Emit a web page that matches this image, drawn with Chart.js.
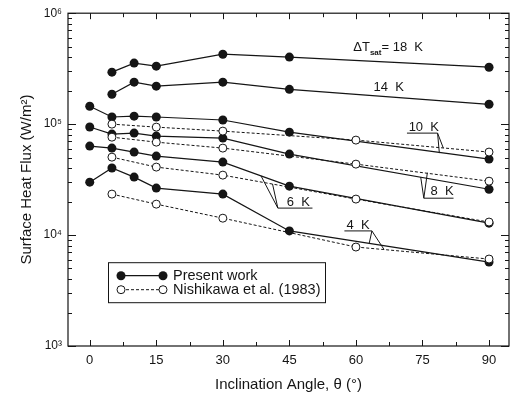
<!DOCTYPE html>
<html>
<head>
<meta charset="utf-8">
<script src="https://cdn.jsdelivr.net/npm/chart.js@4.4.0/dist/chart.umd.min.js"></script>
<style>
  html, body { margin: 0; padding: 0; background: #fff; }
  #wrap { width: 514px; height: 400px; }
</style>
</head>
<body>
<div id="wrap"><canvas id="fluxChart" width="514" height="400"></canvas></div>
<script>
// Inclination angles (deg)
const anglesPresent = [0, 5, 10, 15, 30, 45, 90];
const anglesNishikawa = [5, 15, 30, 60, 90];

// Present work, surface heat flux (W/m2), one array per wall superheat
const present18K = [null, 294000, 355000, 333000, 427000, 402000, 326000];
const present14K = [null, 186000, 239000, 220000, 239000, 206000, 151000];
const present10K = [145000, 116000, 118000, 116000, 109000, 84700, 48400];
const present8K = [94200, 81300, 83000, 78000, 74800, 53700, 25900];
const present6K = [63400, 60800, 56000, 51500, 45500, 27600, 12800];
const present4K = [30000, 40200, 33300, 26500, 23400, 10900, 5710];

// Nishikawa et al. (1983)
const nishikawa10K = [100000, 94000, 86500, 71800, 56000];
const nishikawa8K = [76300, 68800, 60800, 43600, 30600];
const nishikawa6K = [50400, 41000, 34700, 21100, 13100];
const nishikawa4K = [23400, 19000, 14200, 7800, 6080];

// Axis ticks
const xTicks = [0, 15, 30, 45, 60, 75, 90];
const yTicks = [1e3, 1e4, 1e5, 1e6];
const yTickLabels = ['10³', '10⁴', '10⁵', '10⁶'];

const ink = '#151515';
const font = '"Liberation Sans", Arial, Helvetica, sans-serif';

function toPoints(angles, values) {
    return angles.map((a, i) => ({ x: a, y: values[i] })).filter(p => p.y !== null);
}

function presentSet(values) {
    return {
        data: toPoints(anglesPresent, values),
        borderColor: ink,
        backgroundColor: ink,
        borderWidth: 1.2,
        pointRadius: 4.5,
        pointBackgroundColor: ink,
        pointBorderColor: ink,
        pointBorderWidth: 0,
        tension: 0,
    };
}

function nishikawaSet(values) {
    return {
        data: toPoints(anglesNishikawa, values),
        borderColor: ink,
        borderWidth: 1,
        borderDash: [3, 2],
        pointRadius: 4,
        pointBackgroundColor: '#fff',
        pointBorderColor: ink,
        pointBorderWidth: 1,
        tension: 0,
    };
}

// Labels with leader lines, in data coordinates
const labels = [
    { text: '10 K', at: [75.3, 94000], line: [[71.5, 83000], [78.4, 83000]], leaders: [[78.8, 54800], [79.7, 60800]], from: [78.4, 83000] },
    { text: '8 K', at: [79.4, 24900], line: [[75.3, 21500], [82, 21500]], leaders: [[74.6, 33300], [76.1, 36500]], from: [75.3, 21500] },
    { text: '6 K', at: [47, 19800], line: [[42.4, 17500], [50.2, 17500]], leaders: [[38.6, 34200], [41.2, 28900]], from: [42.4, 17500] },
    { text: '4 K', at: [60.5, 12300], line: [[57.4, 10900], [63.6, 10900]], leaders: [[63, 8450], [66.3, 7450]], from: [63.6, 10900] },
];

const framePlugin = {
    id: 'frame',
    beforeDatasetsDraw(chart) {
        const ctx = chart.ctx;
        const { left, right, top, bottom } = chart.chartArea;
        const x = chart.scales.x, y = chart.scales.y;
        ctx.save();
        ctx.strokeStyle = ink;
        ctx.lineWidth = 1.2;
        ctx.strokeRect(left, top, right - left, bottom - top);
        ctx.lineWidth = 1;
        ctx.beginPath();
        for (let a = 0; a <= 90; a += 7.5) {
            const px = Math.round(x.getPixelForValue(a)) + 0.5;
            const len = a % 15 === 0 ? 6 : 4;
            ctx.moveTo(px, bottom); ctx.lineTo(px, bottom - len);
            ctx.moveTo(px, top); ctx.lineTo(px, top + len);
        }
        for (let d = 1e3; d <= 1e6; d *= 10) {
            for (let m = 1; m <= 9; m++) {
                const v = d * m;
                if (v > 1e6) break;
                const py = Math.round(y.getPixelForValue(v)) + 0.5;
                const len = m === 1 ? 8 : 4;
                ctx.moveTo(left, py); ctx.lineTo(left + len, py);
                ctx.moveTo(right, py); ctx.lineTo(right - len, py);
            }
        }
        ctx.stroke();
        ctx.restore();
    },
    afterDatasetsDraw(chart) {
        const ctx = chart.ctx;
        const x = chart.scales.x, y = chart.scales.y;
        const P = (p) => [x.getPixelForValue(p[0]), y.getPixelForValue(p[1])];
        ctx.save();
        ctx.fillStyle = ink;
        ctx.strokeStyle = ink;
        ctx.lineWidth = 1;
        ctx.textBaseline = 'middle';

        // Delta T sat = 18 K
        let [tx, ty] = P([59.4, 490000]);
        ctx.font = '13px ' + font;
        ctx.textAlign = 'left';
        ctx.fillText('ΔT', tx, ty);
        tx += ctx.measureText('ΔT').width;
        ctx.font = 'bold 8px ' + font;
        ctx.fillText('sat', tx, ty + 5);
        tx += ctx.measureText('sat').width;
        ctx.font = '13px ' + font;
        ctx.fillText('= 18  K', tx, ty);

        ctx.textAlign = 'center';
        [tx, ty] = P([67.4, 216000]);
        ctx.fillText('14  K', tx, ty);

        labels.forEach(l => {
            const [cx, cy] = P(l.at);
            ctx.fillText(l.text.replace(' ', '  '), cx, cy);
            ctx.beginPath();
            const a = P(l.line[0]), b = P(l.line[1]), f = P(l.from);
            ctx.moveTo(a[0], a[1]); ctx.lineTo(b[0], b[1]);
            l.leaders.forEach(t => {
                const q = P(t);
                ctx.moveTo(f[0], f[1]); ctx.lineTo(q[0], q[1]);
            });
            ctx.stroke();
        });

        // Legend box
        const { left, top } = chart.chartArea;
        const bx = left + 40.5, by = top + 249.5, bw = 217, bh = 40;
        ctx.strokeRect(bx, by, bw, bh);
        const rows = [
            { y: by + 13, label: 'Present work', dash: [], open: false },
            { y: by + 27, label: 'Nishikawa et al. (1983)', dash: [3, 2], open: true },
        ];
        ctx.textAlign = 'left';
        ctx.font = '14.5px ' + font;
        rows.forEach(r => {
            const x1 = bx + 12.5, x2 = bx + 54.5;
            ctx.beginPath();
            ctx.setLineDash(r.dash);
            ctx.lineWidth = r.open ? 1 : 1.2;
            ctx.moveTo(x1, r.y); ctx.lineTo(x2, r.y);
            ctx.stroke();
            ctx.setLineDash([]);
            [x1, x2].forEach(cx => {
                ctx.beginPath();
                ctx.arc(cx, r.y, r.open ? 4 : 4.5, 0, Math.PI * 2);
                if (r.open) { ctx.fillStyle = '#fff'; ctx.fill(); ctx.lineWidth = 1; ctx.stroke(); }
                else { ctx.fillStyle = ink; ctx.fill(); }
            });
            ctx.fillStyle = ink;
            ctx.fillText(r.label, bx + 64.5, r.y);
        });
        ctx.restore();
    },
};

const ctx = document.getElementById('fluxChart').getContext('2d');

const fluxChart = new Chart(ctx, {
    type: 'line',
    data: {
        datasets: [
            nishikawaSet(nishikawa10K),
            nishikawaSet(nishikawa8K),
            nishikawaSet(nishikawa6K),
            nishikawaSet(nishikawa4K),
            presentSet(present18K),
            presentSet(present14K),
            presentSet(present10K),
            presentSet(present8K),
            presentSet(present6K),
            presentSet(present4K),
        ],
    },
    options: {
        responsive: false,
        animation: false,
        layout: { padding: { top: 13, right: 1, left: 0, bottom: 0 } },
        plugins: {
            legend: { display: false },
            tooltip: { enabled: false },
        },
        scales: {
            x: {
                type: 'linear',
                min: -4.9,
                max: 94.5,
                grid: { display: false, drawTicks: false },
                border: { display: false },
                afterBuildTicks: (scale) => { scale.ticks = xTicks.map(v => ({ value: v })); },
                afterFit: (scale) => { scale.height = 54; },
                ticks: {
                    padding: 7,
                    color: ink,
                    font: { family: font, size: 13 },
                    callback: (v) => String(v),
                },
                title: {
                    display: true,
                    text: 'Inclination Angle, θ (°)',
                    color: ink,
                    font: { family: font, size: 15 },
                    padding: { top: 0, bottom: 6 },
                },
            },
            y: {
                type: 'logarithmic',
                min: 1e3,
                max: 1e6,
                grid: { display: false, drawTicks: false },
                border: { display: false },
                afterBuildTicks: (scale) => { scale.ticks = yTicks.map(v => ({ value: v })); },
                afterFit: (scale) => { scale.width = 68; },
                ticks: {
                    padding: 6,
                    color: ink,
                    font: { family: font, size: 12 },
                    callback: (v) => yTickLabels[yTicks.indexOf(v)],
                },
                title: {
                    display: true,
                    text: 'Surface Heat Flux (W/m²)',
                    color: ink,
                    font: { family: font, size: 15 },
                    padding: { top: 18, bottom: 0 },
                },
            },
        },
    },
    plugins: [framePlugin],
});
</script>
</body>
</html>
